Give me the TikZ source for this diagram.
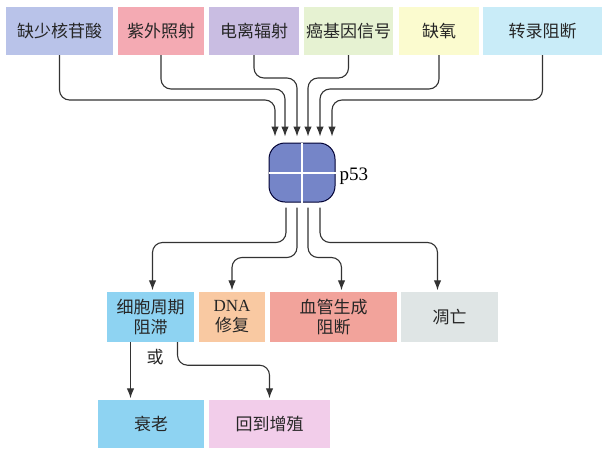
\documentclass[tikz,border=0pt]{standalone}
\usepackage{fontspec}
\setmainfont{Liberation Serif}
\newfontfamily\cjk{Noto Sans CJK SC}
\usetikzlibrary{arrows.meta,calc}
\definecolor{cnuc}{HTML}{B9C3E9}
\definecolor{cuv}{HTML}{F4AAB3}
\definecolor{cion}{HTML}{C9BDE2}
\definecolor{conc}{HTML}{E6F2D2}
\definecolor{chyp}{HTML}{FBFBCF}
\definecolor{ctra}{HTML}{C9ECF8}
\definecolor{cblue}{HTML}{8ED3F2}
\definecolor{cdna}{HTML}{F9C9A2}
\definecolor{cang}{HTML}{F2A39B}
\definecolor{capo}{HTML}{DFE5E5}
\definecolor{cpro}{HTML}{F2CDEA}
\definecolor{cp53}{HTML}{7585C8}
\definecolor{cline}{HTML}{333333}
\begin{document}
\begin{tikzpicture}[x=1pt, y=-1pt,
  box/.style={inner sep=0pt, align=center, text=black!85, font=\cjk\fontsize{17}{20}\selectfont},
  link/.style={draw=cline, line width=1.1pt, rounded corners=10pt, -{Latex[length=10pt,width=7.5pt]}}]
\useasboundingbox (0,0) rectangle (609,460);

\node[box, fill=cnuc, minimum width=107pt, minimum height=48pt] (t1) at (59.5, 31) {缺少核苷酸};
\node[box, fill=cuv, minimum width=86pt, minimum height=48pt] (t2) at (161, 31) {紫外照射};
\node[box, fill=cion, minimum width=90pt, minimum height=48pt] (t3) at (254, 31) {电离辐射};
\node[box, fill=conc, minimum width=89pt, minimum height=48pt] (t4) at (348.5, 31) {癌基因信号};
\node[box, fill=chyp, minimum width=80pt, minimum height=48pt] (t5) at (439, 31) {缺氧};
\node[box, fill=ctra, minimum width=119pt, minimum height=48pt] (t6) at (542.5, 31) {转录阻断};

\node[draw=black!80!blue, line width=1pt, fill=cp53, rounded corners=16pt, minimum width=66pt, minimum height=59pt] (p53) at (302, 172.5) {};
\draw[white, line width=2pt] (p53.north) -- (p53.south);
\draw[white, line width=2pt] (p53.west) -- (p53.east);
\node[font=\fontsize{19}{20}\selectfont, anchor=west] (lbl) at (336, 176) {p53};

\node[box, fill=cblue, minimum width=87pt, minimum height=50pt] (b1) at (150.5, 317) {细胞周期\\阻滞};
\node[box, fill=cdna, minimum width=66pt, minimum height=50pt] (b2) at (232, 317) {{\rmfamily DNA}\\修复};
\node[box, fill=cang, minimum width=127pt, minimum height=50pt] (b3) at (333.5, 317) {血管生成\\阻断};
\node[box, fill=capo, minimum width=97pt, minimum height=50pt] (b4) at (449.5, 317) {凋亡};

\node[box, fill=cblue, minimum width=106pt, minimum height=48pt] (s1) at (151, 424) {衰老};
\node[box, fill=cpro, minimum width=121pt, minimum height=48pt] (s2) at (269.5, 424) {回到增殖};
\node[box] (or) at (155, 357) {或};

\draw[link, shorten >=6pt] (t1.south) -- (t1.south |- 0,100) -| ([xshift=-27pt]p53.north);
\draw[link, shorten >=6pt] (t2.south) -- (t2.south |- 0,89) -| ([xshift=-17pt]p53.north);
\draw[link, shorten >=6pt] (t3.south) -- (t3.south |- 0,78) -| ([xshift=-5pt]p53.north);
\draw[link, shorten >=6pt] (t4.south) -- (t4.south |- 0,78) -| ([xshift=6pt]p53.north);
\draw[link, shorten >=6pt] (t5.south) -- (t5.south |- 0,89) -| ([xshift=18pt]p53.north);
\draw[link, shorten >=6pt] (t6.south) -- (t6.south |- 0,100) -| ([xshift=30pt]p53.north);

\draw[link, shorten <=5pt, shorten >=1.5pt] ([xshift=-16pt]p53.south) -- ++(0,40) -| ([xshift=2pt]b1.north);
\draw[link, shorten <=5pt, shorten >=1.5pt] ([xshift=-5pt]p53.south) -- ++(0,55) -| (b2.north);
\draw[link, shorten <=5pt, shorten >=1.5pt] ([xshift=6pt]p53.south) -- ++(0,55) -| ([xshift=8pt]b3.north);
\draw[link, shorten <=5pt, shorten >=1.5pt] ([xshift=18pt]p53.south) -- ++(0,40) -| ([xshift=-12pt]b4.north);

\draw[link, shorten >=1.5pt] ([xshift=-20pt]b1.south) -- ([xshift=-20pt]b1.south |- s1.north);
\draw[link, shorten >=1.5pt] ([xshift=27pt]b1.south) -- ++(0,23) -| (s2.north);

\end{tikzpicture}
\end{document}
